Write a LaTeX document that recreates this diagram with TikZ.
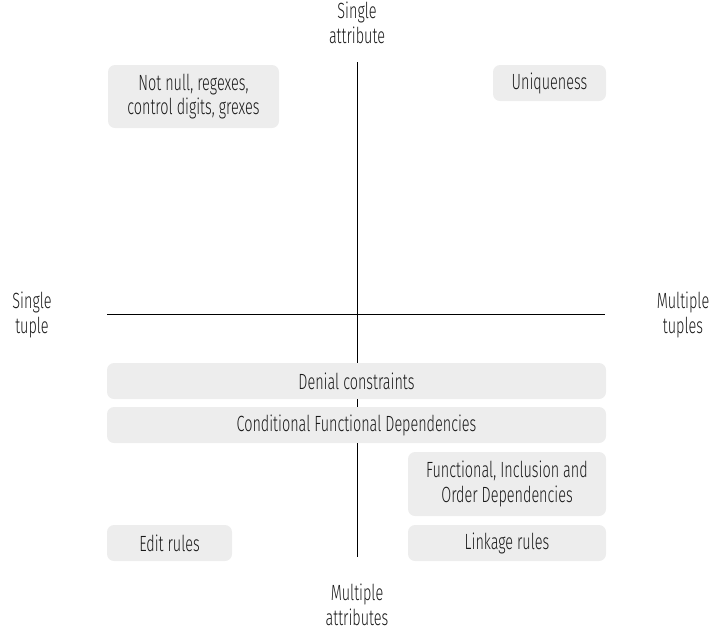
\documentclass[tikz,border=0pt]{standalone}
\usepackage{fontspec}
\setmainfont{Fira Sans Light}[FakeStretch=0.655]
\begin{document}
\begin{tikzpicture}[x=1pt,y=-1pt,
  box/.style={fill=black!7,rounded corners=7pt},
  lbl/.style={font=\fontsize{22}{24.5}\selectfont,align=center,text=black!90},
  axis/.style={draw=black,line width=0.8pt}]
\useasboundingbox (0,0) rectangle (712,633);
% boxes
\fill[box] (108,65) rectangle (279,128);
\fill[box] (493,65) rectangle (606,101);
\fill[box] (107,363) rectangle (606,399);
\fill[box] (107,407) rectangle (606,443);
\fill[box] (408,452) rectangle (606,516);
\fill[box] (107,525) rectangle (232,561);
\fill[box] (408,525) rectangle (606,561);
% axes
\coordinate (top) at (357,62);
\coordinate (bot) at (357,557);
\coordinate (left) at (107,314);
\coordinate (right) at (605,314);
\draw[axis] (top) -- (357,363);
\draw[axis] (357,399) -- (357,407);
\draw[axis] (357,443) -- (bot);
\draw[axis] (left) -- (right);
% box texts
\node[lbl] (a) at (193.5,96.5) {Not null, regexes,\\control digits, grexes};
\node[lbl] (b) at (549.5,83) {Uniqueness};
\node[lbl] (c) at (356.5,381) {Denial constraints};
\node[lbl] (d) at (356.5,425) {Conditional Functional Dependencies};
\node[lbl] (e) at (507,484) {Functional, Inclusion and\\Order Dependencies};
\node[lbl] (f) at (169.5,543) {Edit rules};
\node[lbl] (g) at (507,543) {Linkage rules};
% axis labels
\node[lbl] (t) at (357,23) {Single\\attribute};
\node[lbl] (l) at (32,315) {Single\\tuple};
\node[lbl] (r) at (683,315) {Multiple\\tuples};
\node[lbl] (m) at (357,605) {Multiple\\attributes};
\end{tikzpicture}
\end{document}
